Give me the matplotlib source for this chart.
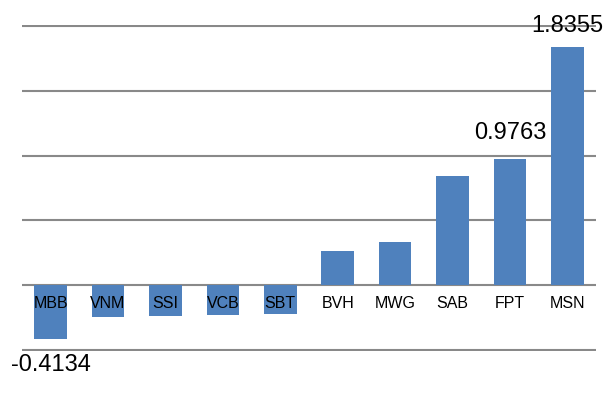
import matplotlib
matplotlib.use("Agg")
import matplotlib.pyplot as plt
import numpy as np

plt.rcParams['font.family'] = ['Liberation Sans', 'DejaVu Sans']

categories = ["MBB", "VNM", "SSI", "VCB", "SBT", "BVH", "MWG", "SAB", "FPT", "MSN"]
values = [-0.4134, -0.243, -0.235, -0.227, -0.222, 0.266, 0.333, 0.841, 0.9763, 1.8355]
labeled = ["MBB", "FPT", "MSN"]
yticks = [-0.5, 0.0, 0.5, 1.0, 1.5, 2.0]

W, H = 606, 411
fig = plt.figure(figsize=(W / 100, H / 100), dpi=100)
ax = fig.add_axes([22 / W, 1 - 351 / H, (596 - 22) / W, (351 - 25) / H])

x = np.arange(len(categories))
ax.bar(x, values, width=0.566, color="#4F81BD", zorder=3)

for t in yticks:
    ax.axhline(t, color="#898989", lw=1.5, zorder=1)

ax.set_xlim(-0.5, len(categories) - 0.5)
ax.set_ylim(yticks[0] - 0.005, yticks[-1] + 0.005)
for s in ax.spines.values():
    s.set_visible(False)
ax.set_xticks([])
ax.set_yticks([])

for i, c in enumerate(categories):
    ax.annotate(c, xy=(i, 0), xytext=(0, -13.2), textcoords="offset points",
                ha="center", va="center", fontsize=11.5, color="black", zorder=5)

off = 0.2
for i, (c, v) in enumerate(zip(categories, values)):
    if c in labeled:
        y = v + off if v >= 0 else v - off
        y = min(y, yticks[-1])
        ax.text(i, y, f"{v:.4f}", ha="center", va="center", fontsize=17,
                color="black", clip_on=False, zorder=5)

fig.savefig("out.png", dpi=100)
